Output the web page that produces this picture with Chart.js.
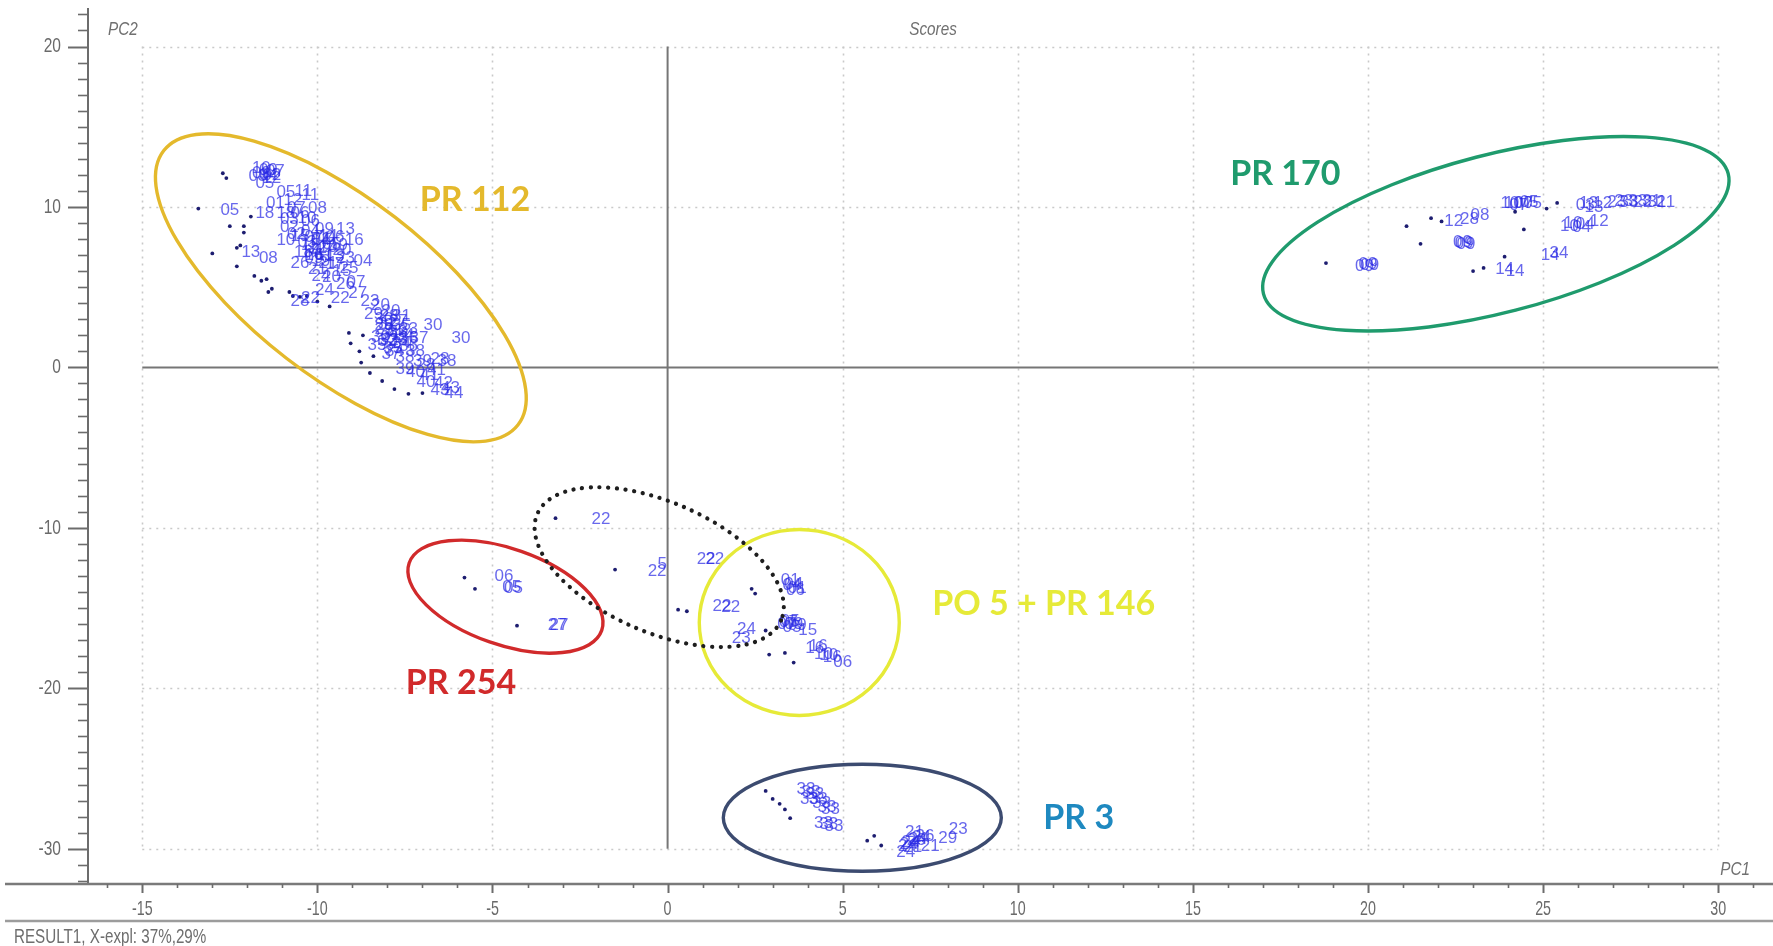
<!DOCTYPE html>
<html>
<head>
<meta charset="utf-8">
<title>Scores</title>
<script src="https://cdn.jsdelivr.net/npm/chart.js@4.4.1/dist/chart.umd.min.js"></script>
<style>
  html, body { margin: 0; padding: 0; background: #ffffff; }
  canvas { display: block; }
</style>
</head>
<body>
<canvas id="scores" width="1773" height="946" style="width:1773px;height:946px"></canvas>
<script>
// PCA score plot (PC1 vs PC2) of the red pigment samples.
// Each labelled score is [PC1, PC2, sample id]; plain dots are [PC1, PC2].

const pr112Scores = [
  [-11.6, 12.1, '09'], [-11.4, 12.3, '09'], [-11.3, 11.8, '12'], [-11.5, 11.5, '05'], [-11.6, 12.4, '10'], [-11.3, 12.0, '02'],
  [-11.4, 12.0, '04'], [-11.7, 11.9, '03'], [-11.2, 12.2, '07'],
  [-12.5, 9.8, '05'], [-10.9, 10.9, '05'], [-10.4, 11.0, '11'], [-10.2, 10.7, '11'],
  [-11.5, 9.6, '18'], [-10.9, 9.6, '18'], [-10.5, 9.6, '06'], [-10.2, 9.1, '06'], [-11.2, 10.2, '01'],
  [-10.7, 10.4, '12'], [-10.6, 9.9, '07'], [-10.0, 9.9, '08'], [-10.3, 9.3, '10'], [-10.8, 9.2, '03'],
  [-11.9, 7.2, '13'], [-11.4, 6.8, '08'], [-10.9, 7.9, '10'], [-10.5, 8.2, '15'], [-10.2, 7.6, '15'],
  [-9.9, 7.9, '14'], [-9.7, 8.2, '14'], [-10.1, 7.0, '16'], [-9.8, 7.3, '17'], [-9.4, 7.6, '19'],
  [-9.7, 6.5, '21'], [-9.2, 6.8, '23'], [-9.1, 6.2, '25'], [-10.5, 6.5, '26'], [-10.8, 8.7, '02'],
  [-9.2, 8.6, '13'], [-8.95, 7.9, '16'], [-8.7, 6.6, '04'],
  [-10.0, 7.4, '12'], [-9.8, 7.0, '11'], [-10.3, 7.8, '03'], [-9.6, 7.7, '05'], [-10.1, 6.8, '09'],
  [-9.5, 6.9, '13'], [-10.4, 7.2, '18'], [-9.9, 8.0, '01'], [-10.6, 8.3, '02'], [-9.3, 7.3, '20'],
  [-10.2, 8.5, '04'], [-9.8, 8.6, '09'], [-9.5, 8.1, '06'], [-10.1, 8.1, '07'], [-9.7, 7.5, '10'],
  [-10.2, 7.2, '14'], [-9.9, 6.6, '19'], [-9.5, 6.4, '17'], [-9.3, 6.0, '15'], [-10.0, 6.1, '21'],
  [-9.6, 5.6, '20'], [-9.2, 5.2, '26'], [-8.85, 4.6, '27'], [-8.5, 4.1, '23'],
  [-9.9, 5.7, '24'], [-8.9, 5.3, '07'], [-9.8, 4.8, '24'], [-9.35, 4.3, '22'], [-10.5, 4.1, '28'], [-10.2, 4.3, '22'],
  [-8.2, 3.9, '20'], [-7.9, 3.5, '20'], [-8.1, 2.6, '29'], [-7.8, 2.3, '31'], [-7.95, 1.7, '32'], [-7.7, 1.7, '33'],
  [-7.8, 1.0, '34'], [-7.6, 2.6, '35'], [-7.4, 1.3, '36'], [-7.7, 2.9, '27'], [-7.95, 3.2, '28'],
  [-7.9, 2.0, '31'], [-8.0, 1.6, '32'], [-7.7, 2.2, '33'], [-7.85, 1.2, '35'], [-8.1, 2.4, '29'],
  [-7.6, 1.5, '34'], [-8.2, 1.9, '30'], [-7.5, 0.6, '38'],
  [-8.4, 3.3, '29'], [-8.1, 3.0, '30'], [-7.6, 3.2, '31'], [-8.0, 2.7, '32'], [-7.4, 2.4, '33'],
  [-7.5, 2.0, '34'], [-8.3, 1.4, '35'], [-7.4, 1.8, '36'], [-7.9, 0.8, '37'], [-7.2, 1.0, '38'],
  [-6.7, 2.6, '30'], [-5.9, 1.8, '30'], [-7.1, 1.8, '37'], [-6.5, 0.5, '28'], [-6.3, 0.4, '38'],
  [-7.5, -0.1, '39'], [-7.2, -0.3, '40'], [-6.8, -0.5, '41'], [-6.4, -1.0, '42'], [-6.1, -1.6, '44'],
  [-6.5, -1.45, '43'], [-6.9, 0.1, '28'], [-7.0, 0.4, '39'], [-6.9, -0.9, '40'], [-6.6, -0.2, '41'], [-6.2, -1.3, '43']
];
const pr112Dots = [
  [-13.4, 9.9], [-13.0, 7.1], [-12.7, 12.1], [-12.6, 11.8], [-12.3, 6.3], [-12.2, 7.6], [-12.1, 8.4],
  [-11.8, 5.7], [-11.6, 5.4], [-11.4, 4.7], [-10.8, 4.7], [-10.5, 4.4], [-12.5, 8.8], [-11.9, 9.4],
  [-11.45, 5.5], [-11.3, 4.9], [-10.7, 4.45], [-10.3, 4.45], [-12.3, 7.45], [-12.1, 8.8],
  [-9.1, 2.15], [-9.05, 1.5], [-8.8, 1.0], [-8.7, 2.0], [-8.5, -0.35], [-8.15, -0.85], [-7.8, -1.35],
  [-7.4, -1.65], [-7.0, -1.6], [-8.4, 0.7], [-8.75, 0.3], [-10.0, 4.1], [-9.65, 3.8]
];

const pr170Scores = [
  [20.0, 6.4, '09'], [19.9, 6.3, '09'], [20.05, 6.35, '09'], [22.7, 7.8, '09'], [22.8, 7.7, '09'], [22.75, 7.75, '09'],
  [22.45, 9.1, '12'], [22.9, 9.25, '28'], [23.2, 9.5, '08'],
  [24.05, 10.25, '10'], [24.3, 10.1, '07'], [24.45, 10.25, '07'], [24.7, 10.2, '05'], [24.15, 10.2, '10'], [24.6, 10.3, '05'],
  [25.75, 8.8, '10'], [26.2, 8.9, '04'], [26.6, 9.1, '12'], [25.85, 9.0, '10'], [26.1, 8.7, '04'],
  [26.45, 9.95, '13'], [26.2, 10.1, '03'], [27.1, 10.3, '23'], [27.45, 10.3, '33'], [26.3, 10.2, '13'], [26.7, 10.25, '12'],
  [27.85, 10.3, '22'], [28.25, 10.3, '31'], [28.5, 10.3, '21'], [27.3, 10.35, '23'], [27.7, 10.35, '33'], [28.1, 10.35, '31'],
  [23.9, 6.1, '14'], [24.2, 6.0, '14'], [25.45, 7.1, '34'], [25.2, 7.0, '14']
];
const pr170Dots = [
  [18.8, 6.5], [21.5, 7.7], [21.1, 8.8], [21.8, 9.3], [22.1, 9.1], [24.45, 8.6],
  [25.4, 10.25], [23.0, 6.0], [23.3, 6.2], [23.9, 6.9], [24.2, 9.7], [25.1, 9.9]
];

const pr254Scores = [
  [-4.67, -13.0, '06'], [-4.4, -13.8, '05'], [-4.45, -13.7, '05'], [-3.15, -16.1, '27'], [-3.1, -16.05, '27']
];
const pr254Dots = [[-5.8, -13.1], [-5.5, -13.8], [-4.3, -16.1]];

const mixedScores = [
  [-1.9, -9.45, '22'], [-0.3, -12.7, '22'], [-0.15, -12.3, '5'], [1.1, -11.95, '22'], [1.35, -11.95, '22'],
  [1.55, -14.9, '22'], [1.8, -14.95, '22'], [2.25, -16.3, '24'], [2.1, -16.9, '23']
];
const mixedDots = [[-3.2, -9.4], [-1.5, -12.6], [0.3, -15.1], [0.55, -15.2], [2.4, -13.8], [2.5, -14.1]];

const po5Scores = [
  [3.5, -13.3, '01'], [3.55, -13.6, '04'], [3.65, -13.9, '06'], [3.6, -13.5, '04'], [3.7, -13.8, '01'],
  [3.4, -16.0, '07'], [3.6, -16.0, '09'], [3.5, -15.8, '05'], [3.45, -15.9, '07'], [3.7, -16.1, '09'], [3.55, -16.2, '05'],
  [4.0, -16.4, '15'], [4.2, -17.5, '16'], [4.45, -17.9, '10'], [4.7, -18.1, '16'], [5.0, -18.4, '06'],
  [4.3, -17.4, '16'], [4.6, -17.95, '10']
];
const po5Dots = [[2.9, -17.9], [3.35, -17.8], [3.6, -18.4], [2.8, -16.4]];

const pr3Scores = [
  [3.95, -26.3, '33'], [4.2, -26.6, '33'], [4.4, -27.2, '33'], [4.65, -27.55, '33'], [4.75, -28.6, '33'],
  [4.45, -28.4, '33'], [4.05, -26.9, '33'], [4.1, -26.5, '33'], [4.3, -26.9, '33'], [4.55, -27.4, '33'], [4.6, -28.5, '33'],
  [6.85, -29.85, '24'], [7.15, -29.4, '24'], [7.35, -29.2, '26'], [7.05, -29.0, '21'], [6.8, -30.2, '24'],
  [7.5, -29.85, '21'], [8.0, -29.35, '29'], [8.3, -28.8, '23'], [6.95, -29.6, '24'],
  [6.9, -29.7, '24'], [7.1, -29.5, '26'], [7.0, -29.9, '21'], [7.25, -29.3, '24']
];
const pr3Dots = [[2.8, -26.4], [3.0, -26.9], [3.2, -27.2], [3.35, -27.55], [3.5, -28.1], [5.7, -29.5], [5.9, -29.2], [6.1, -29.8]];

// Axis ticks
const pc1Ticks = [-15, -10, -5, 0, 5, 10, 15, 20, 25, 30];
const pc2Ticks = [20, 10, 0, -10, -20, -30];

// Pigment groups: outline ellipse (centre in score units, radii in px) and caption
const groups = [
  { name: 'PR 112', color: '#e4b92c', pc1: -9.33, pc2: 4.96, rx: 224, ry: 89, tilt: 37.7, textPc1: -5.5, textPc2: 10.4 },
  { name: 'PR 170', color: '#1f9b6d', pc1: 23.65, pc2: 8.33, rx: 240, ry: 79, tilt: -14.5, textPc1: 17.64, textPc2: 12.07 },
  { name: 'PR 254', color: '#d12a2b', pc1: -4.63, pc2: -14.29, rx: 102, ry: 48, tilt: 19.3, textPc1: -5.9, textPc2: -19.7 },
  { name: 'PO 5 + PR 146', color: '#e6ea38', pc1: 3.76, pc2: -15.9, rx: 100, ry: 93, tilt: 0, textPc1: 10.74, textPc2: -14.75 },
  { name: 'PR 3', color: '#3c4b70', textColor: '#1e89c0', pc1: 5.56, pc2: -28.07, rx: 139, ry: 53.5, tilt: 0, textPc1: 11.74, textPc2: -28.1 }
];
const mixedOutline = { pc1: -0.24, pc2: -12.45, rx: 133, ry: 65, tilt: 23.6 };

const scoreSets = [
  ['PR 112', pr112Scores, pr112Dots],
  ['PR 170', pr170Scores, pr170Dots],
  ['PR 254', pr254Scores, pr254Dots],
  ['Mixed', mixedScores, mixedDots],
  ['PO 5 + PR 146', po5Scores, po5Dots],
  ['PR 3', pr3Scores, pr3Dots]
];

const datasets = [];
for (const [name, scores, dots] of scoreSets) {
  datasets.push({
    label: name + ' samples',
    data: scores.map(s => ({ x: s[0], y: s[1] })),
    ids: scores.map(s => s[2]),
    pointRadius: 0,
    showIds: true
  });
  datasets.push({
    label: name,
    data: dots.map(d => ({ x: d[0], y: d[1] })),
    pointRadius: 1.9,
    backgroundColor: '#1d1d70',
    borderWidth: 0
  });
}

const AXIS_FONT = '"Liberation Sans", Arial, sans-serif';

function squeezedText(ctx, text, x, y, align, sx) {
  ctx.save();
  ctx.translate(x, y);
  ctx.scale(sx, 1);
  ctx.textAlign = align;
  ctx.fillText(text, 0, 0);
  ctx.restore();
}

function ellipsePath(ctx, xs, ys, e) {
  ctx.beginPath();
  ctx.ellipse(xs.getPixelForValue(e.pc1), ys.getPixelForValue(e.pc2), e.rx, e.ry, e.tilt * Math.PI / 180, 0, Math.PI * 2);
}

const scorePlot = {
  id: 'scorePlot',
  beforeDatasetsDraw(chart) {
    const { ctx, scales: { x: xs, y: ys } } = chart;
    const top = ys.getPixelForValue(pc2Ticks[0]);
    const bottom = ys.getPixelForValue(pc2Ticks[pc2Ticks.length - 1]);
    const left = xs.getPixelForValue(pc1Ticks[0]);
    const right = xs.getPixelForValue(pc1Ticks[pc1Ticks.length - 1]);
    ctx.save();
    // dotted grid
    ctx.strokeStyle = '#c9c9c9';
    ctx.lineWidth = 1.6;
    ctx.setLineDash([2, 5]);
    for (const v of pc1Ticks) {
      if (v === 0) continue;
      const p = Math.round(xs.getPixelForValue(v)) + 0.5;
      ctx.beginPath(); ctx.moveTo(p, top); ctx.lineTo(p, bottom); ctx.stroke();
    }
    for (const v of pc2Ticks) {
      if (v === 0) continue;
      const p = Math.round(ys.getPixelForValue(v)) + 0.5;
      ctx.beginPath(); ctx.moveTo(left, p); ctx.lineTo(right, p); ctx.stroke();
    }
    // zero lines
    ctx.setLineDash([]);
    ctx.strokeStyle = '#767676';
    ctx.lineWidth = 2;
    const x0 = xs.getPixelForValue(0), y0 = ys.getPixelForValue(0);
    ctx.beginPath(); ctx.moveTo(x0, top); ctx.lineTo(x0, bottom); ctx.stroke();
    ctx.beginPath(); ctx.moveTo(left, y0); ctx.lineTo(right, y0); ctx.stroke();
    ctx.restore();
  },
  afterDatasetsDraw(chart) {
    const { ctx, scales: { x: xs, y: ys } } = chart;
    ctx.save();
    // sample ids
    ctx.font = '17px ' + AXIS_FONT;
    ctx.fillStyle = 'rgba(40, 40, 228, 0.7)';
    ctx.textAlign = 'center';
    ctx.textBaseline = 'middle';
    chart.data.datasets.forEach((ds, i) => {
      if (!ds.showIds) return;
      chart.getDatasetMeta(i).data.forEach((pt, j) => {
        ctx.fillText(ds.ids[j], pt.x, pt.y);
      });
    });
    // group outlines
    ctx.lineWidth = 3.4;
    for (const g of groups) {
      ctx.strokeStyle = g.color;
      ellipsePath(ctx, xs, ys, g);
      ctx.stroke();
    }
    ctx.strokeStyle = '#1e1e1e';
    ctx.lineWidth = 4.2;
    ctx.lineCap = 'round';
    ctx.setLineDash([0.1, 8.6]);
    ellipsePath(ctx, xs, ys, mixedOutline);
    ctx.stroke();
    ctx.setLineDash([]);
    // group captions
    ctx.font = 'bold 34px Lato, "Open Sans", sans-serif';
    for (const g of groups) {
      ctx.fillStyle = g.textColor || g.color;
      ctx.fillText(g.name, xs.getPixelForValue(g.textPc1), ys.getPixelForValue(g.textPc2));
    }
    ctx.restore();
  },
  afterDraw(chart) {
    const { ctx, chartArea: area, scales: { x: xs, y: ys } } = chart;
    const W = chart.width;
    ctx.save();
    ctx.strokeStyle = '#6c6c6c';
    ctx.fillStyle = '#6a6a6a';
    // PC2 axis
    ctx.lineWidth = 2;
    ctx.beginPath(); ctx.moveTo(area.left, area.top); ctx.lineTo(area.left, area.bottom); ctx.stroke();
    for (let v = Math.ceil(ys.min); v <= Math.floor(ys.max); v++) {
      const p = Math.round(ys.getPixelForValue(v)) + 0.5;
      const len = v % 10 === 0 ? 20 : 10;
      ctx.lineWidth = v % 10 === 0 ? 2 : 1.6;
      ctx.beginPath(); ctx.moveTo(area.left - len, p); ctx.lineTo(area.left, p); ctx.stroke();
    }
    ctx.font = '21px ' + AXIS_FONT;
    ctx.textBaseline = 'middle';
    for (const v of pc2Ticks) {
      squeezedText(ctx, String(v), 61, ys.getPixelForValue(v), 'right', 0.74);
    }
    // PC1 axis
    ctx.strokeStyle = '#7a7a7a';
    ctx.lineWidth = 2.6;
    ctx.beginPath(); ctx.moveTo(5, area.bottom); ctx.lineTo(W, area.bottom); ctx.stroke();
    ctx.strokeStyle = '#6c6c6c';
    for (let v = Math.ceil(xs.min); v <= Math.floor(xs.max); v++) {
      const p = Math.round(xs.getPixelForValue(v)) + 0.5;
      const major = v % 5 === 0;
      ctx.lineWidth = major ? 2 : 1.6;
      ctx.beginPath(); ctx.moveTo(p, area.bottom); ctx.lineTo(p, area.bottom + (major ? 9 : 4)); ctx.stroke();
    }
    for (const v of pc1Ticks) {
      squeezedText(ctx, String(v), xs.getPixelForValue(v), area.bottom + 25, 'center', 0.68);
    }
    ctx.strokeStyle = '#9c9c9c';
    ctx.lineWidth = 2.4;
    ctx.beginPath(); ctx.moveTo(5, area.bottom + 37); ctx.lineTo(W, area.bottom + 37); ctx.stroke();
    ctx.font = '20px ' + AXIS_FONT;
    ctx.fillStyle = '#6e6e6e';
    squeezedText(ctx, 'RESULT1, X-expl: 37%,29%', 14, area.bottom + 53, 'left', 0.76);
    // axis names and plot title
    ctx.font = 'italic 18px ' + AXIS_FONT;
    ctx.fillStyle = '#707070';
    squeezedText(ctx, 'PC2', 108, 30, 'left', 0.85);
    squeezedText(ctx, 'Scores', 933, 30, 'center', 0.85);
    squeezedText(ctx, 'PC1', 1750, 870, 'right', 0.85);
    ctx.restore();
  }
};

new Chart(document.getElementById('scores').getContext('2d'), {
  type: 'scatter',
  data: { datasets },
  options: {
    responsive: false,
    animation: false,
    devicePixelRatio: 1,
    events: [],
    layout: { padding: { left: 88, right: 0, top: 8, bottom: 62 } },
    scales: {
      x: { type: 'linear', min: -16.55, max: 31.45, display: false },
      y: { type: 'linear', min: -32.2, max: 22.4, display: false }
    },
    plugins: { legend: { display: false }, tooltip: { enabled: false } }
  },
  plugins: [scorePlot]
});
</script>
</body>
</html>
